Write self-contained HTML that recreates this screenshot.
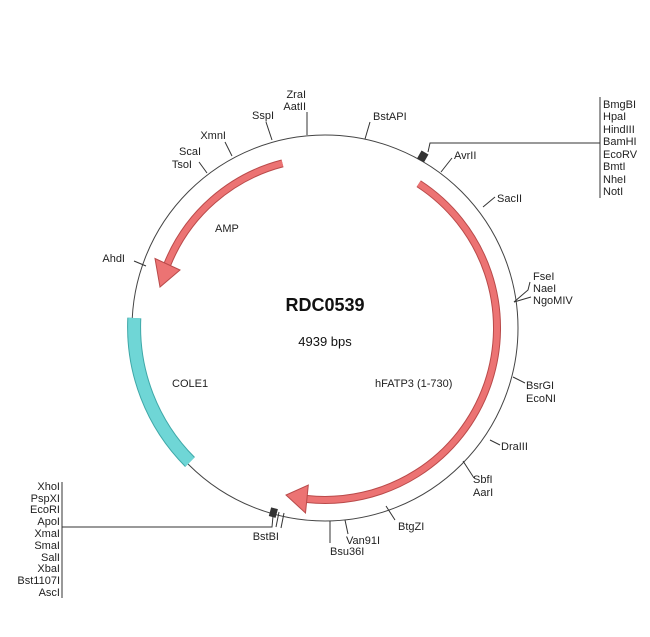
<!DOCTYPE html>
<html><head><meta charset="utf-8"><style>
html,body{margin:0;padding:0;background:#fff;}
svg{display:block;font-family:"Liberation Sans",sans-serif;}
text{font-size:11px;fill:#222;}
</style></head><body>
<svg width="650" height="637" viewBox="0 0 650 637" xmlns="http://www.w3.org/2000/svg">
<circle cx="325" cy="328" r="193" fill="none" stroke="#444" stroke-width="1"/>
<!-- hFATP3 -->
<path d="M418.7,183.7 A172,172 0 0 1 307,499" fill="none" stroke="#b94a4a" stroke-width="8"/>
<path d="M418.7,183.7 A172,172 0 0 1 307,499" fill="none" stroke="#ec7373" stroke-width="6"/>
<polygon points="308.3,485 305.5,513 286,495" fill="#ec7373" stroke="#b94a4a" stroke-width="1"/>
<!-- AMP -->
<path d="M282.5,163.4 A170,170 0 0 0 167.4,264.3" fill="none" stroke="#b94a4a" stroke-width="8"/>
<path d="M282.5,163.4 A170,170 0 0 0 167.4,264.3" fill="none" stroke="#ec7373" stroke-width="6"/>
<polygon points="180,270 155,258.5 160,287" fill="#ec7373" stroke="#b94a4a" stroke-width="1"/>
<!-- COLE1 -->
<path d="M134.3,318 A191,191 0 0 0 190,462" fill="none" stroke="#3fa8a8" stroke-width="14"/>
<path d="M134.3,318 A191,191 0 0 0 190,462" fill="none" stroke="#6fd6d6" stroke-width="12"/>
<g stroke="#333" stroke-width="1" fill="none">
<line x1="307" y1="135" x2="307" y2="112"/>
<line x1="272" y1="140" x2="266" y2="122"/>
<line x1="365" y1="139" x2="370" y2="122"/>
<line x1="232" y1="156" x2="225" y2="142"/>
<line x1="207" y1="173" x2="199" y2="162"/>
<line x1="146" y1="266" x2="134" y2="261"/>
<line x1="441" y1="172" x2="452" y2="158"/>
<polyline points="428,152 430,143 600,143"/>
<line x1="600" y1="97" x2="600" y2="198"/>
<line x1="483" y1="207" x2="495" y2="197"/>
<polyline points="514,302 528,290 530,282"/>
<line x1="514" y1="302" x2="531" y2="297"/>
<line x1="513" y1="377" x2="525" y2="383"/>
<line x1="490" y1="440" x2="500" y2="445"/>
<line x1="463" y1="461" x2="474" y2="478"/>
<line x1="386" y1="506" x2="395" y2="520"/>
<line x1="345" y1="520" x2="348" y2="534"/>
<line x1="330" y1="521" x2="330" y2="543"/>
<line x1="279" y1="512" x2="276" y2="527"/>
<line x1="284" y1="513" x2="281" y2="528"/>
<polyline points="273,516 272,527 62,527"/>
<line x1="62" y1="482" x2="62" y2="598"/>
</g>
<rect x="419" y="152" width="8" height="9" fill="#333" transform="rotate(30 423 156)"/>
<rect x="270" y="508" width="7" height="9" fill="#333" transform="rotate(15 273 512)"/>
<g text-anchor="end">
<text x="306" y="98">ZraI</text><text x="306" y="110">AatII</text>
<text x="274" y="119">SspI</text>
<text x="226" y="139">XmnI</text>
<text x="201" y="155">ScaI</text><text x="192" y="168">TsoI</text>
<text x="125" y="262">AhdI</text>
<text x="60" y="490">XhoI</text><text x="60" y="502">PspXI</text><text x="60" y="513">EcoRI</text>
<text x="60" y="525">ApoI</text><text x="60" y="537">XmaI</text><text x="60" y="549">SmaI</text>
<text x="60" y="561">SalI</text><text x="60" y="572">XbaI</text><text x="60" y="584">Bst1107I</text>
<text x="60" y="596">AscI</text>
<text x="279" y="540">BstBI</text>
</g>
<text x="373" y="120">BstAPI</text>
<text x="454" y="159">AvrII</text>
<text x="603" y="108">BmgBI</text><text x="603" y="120">HpaI</text><text x="603" y="133">HindIII</text>
<text x="603" y="145">BamHI</text><text x="603" y="158">EcoRV</text><text x="603" y="170">BmtI</text>
<text x="603" y="183">NheI</text><text x="603" y="195">NotI</text>
<text x="497" y="202">SacII</text>
<text x="533" y="280">FseI</text><text x="533" y="292">NaeI</text><text x="533" y="304">NgoMIV</text>
<text x="526" y="389">BsrGI</text><text x="526" y="402">EcoNI</text>
<text x="501" y="450">DraIII</text>
<text x="473" y="483">SbfI</text><text x="473" y="496">AarI</text>
<text x="398" y="530">BtgZI</text>
<text x="346" y="544">Van91I</text>
<text x="330" y="555">Bsu36I</text>
<text x="215" y="232">AMP</text>
<text x="172" y="387">COLE1</text>
<text x="375" y="387">hFATP3 (1-730)</text>
<text x="325" y="311" text-anchor="middle" style="font-size:18px;font-weight:bold;fill:#111">RDC0539</text>
<text x="325" y="346" text-anchor="middle" style="font-size:13px;fill:#111">4939 bps</text>
</svg>
</body></html>
